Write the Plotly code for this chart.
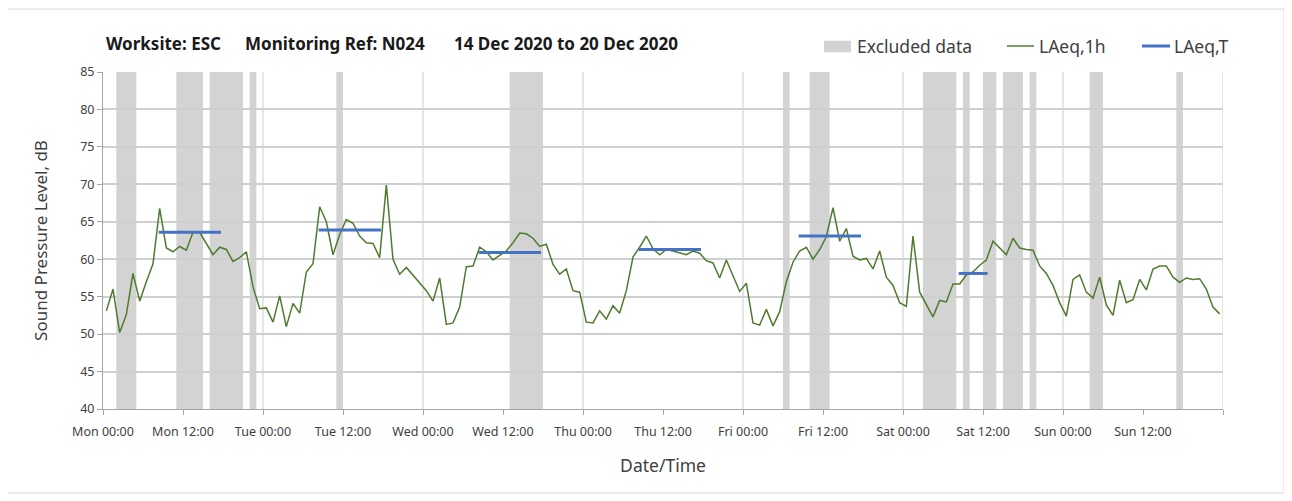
import plotly.graph_objects as go

# ---- data ----
hours = [i + 0.5 for i in range(168)]
laeq_1h = [
    53.1, 56.0, 50.2, 52.6, 58.1, 54.4, 57.0, 59.4, 66.8, 61.5, 61.0, 61.7,
    61.2, 63.6, 63.6, 62.1, 60.6, 61.6, 61.3, 59.7, 60.2, 61.0, 56.3, 53.4,
    53.5, 51.6, 55.1, 51.0, 54.1, 52.8, 58.3, 59.4, 67.0, 65.0, 60.6, 63.3,
    65.3, 64.8, 63.1, 62.2, 62.1, 60.2, 69.9, 60.0, 58.0, 58.9, 57.9, 56.8,
    55.8, 54.4, 57.5, 51.3, 51.5, 53.6, 59.0, 59.1, 61.6, 61.0, 59.9, 60.5,
    61.1, 62.2, 63.5, 63.4, 62.8, 61.7, 62.0, 59.3, 58.0, 58.7, 55.8, 55.6,
    51.6, 51.5, 53.1, 52.0, 53.8, 52.8, 55.8, 60.3, 61.6, 63.1, 61.4, 60.6,
    61.3, 61.1, 60.8, 60.6, 61.1, 60.8, 59.8, 59.5, 57.5, 59.9, 57.8, 55.7,
    56.8, 51.5, 51.2, 53.3, 51.1, 53.0, 57.0, 59.6, 61.1, 61.6, 60.0, 61.3,
    63.0, 66.9, 62.4, 64.1, 60.4, 59.9, 60.1, 58.7, 61.1, 57.6, 56.5, 54.2,
    53.7, 63.1, 55.6, 53.9, 52.3, 54.5, 54.3, 56.7, 56.7, 57.9, 58.3, 59.2,
    59.9, 62.4, 61.5, 60.6, 62.8, 61.5, 61.3, 61.2, 59.1, 58.1, 56.5, 54.2,
    52.4, 57.3, 57.9, 55.6, 54.8, 57.6, 53.9, 52.5, 57.2, 54.2, 54.6, 57.3,
    55.9, 58.7, 59.1, 59.1, 57.6, 56.9, 57.5, 57.3, 57.4, 56.0, 53.6, 52.7,
]

laeq_t_start = [8.35, 32.35, 56.35, 80.35, 104.35, 128.35]
laeq_t_end = [17.7, 41.7, 65.7, 89.7, 113.7, 132.7]
laeq_t_value = [63.6, 63.9, 60.9, 61.3, 63.1, 58.1]

excluded_start = [2, 11, 16, 22, 35, 61, 102, 106, 123, 129, 132, 135, 139, 148, 161]
excluded_end = [5, 15, 21, 23, 36, 66, 103, 109, 128, 130, 134, 138, 140, 150, 162]

tick_hours = list(range(0, 157, 12))
tick_labels = ["Mon 00:00", "Mon 12:00", "Tue 00:00", "Tue 12:00", "Wed 00:00",
               "Wed 12:00", "Thu 00:00", "Thu 12:00", "Fri 00:00", "Fri 12:00",
               "Sat 00:00", "Sat 12:00", "Sun 00:00", "Sun 12:00"]

# ---- styles ----
FONT = "Noto Sans"
GREEN = "#4f7b2f"
BLUE = "#4472c4"
BAND = "#d3d3d3"
TXT = "#404040"

OFF = 8  # page body margin
W, H = 1292 - OFF, 501 - OFF
ML, MR, MT, MB = 103 - OFF, 69, 72 - OFF, 92
PW, PH = W - ML - MR, H - MT - MB


def px(x):  # page pixel -> paper
    return (x - OFF - ML) / PW


def py(y):  # page pixel -> paper
    return (H - MB - (y - OFF)) / PH


fig = go.Figure()

# LAeq,1h
fig.add_trace(go.Scatter(x=hours, y=laeq_1h, mode="lines",
                         line=dict(color=GREEN, width=1.5),
                         name="LAeq,1h", showlegend=False))

# LAeq,T segments
bx, by = [], []
for s, e, v in zip(laeq_t_start, laeq_t_end, laeq_t_value):
    bx += [s, e, None]
    by += [v, v, None]
fig.add_trace(go.Scatter(x=bx, y=by, mode="lines",
                         line=dict(color=BLUE, width=3),
                         name="LAeq,T", showlegend=False))

shapes = []
for s, e in zip(excluded_start, excluded_end):
    shapes.append(dict(type="rect", xref="x", yref="y", x0=s, x1=e, y0=40, y1=85,
                       fillcolor=BAND, line=dict(width=0), layer="below"))
for d in range(24, 169, 24):
    shapes.append(dict(type="line", xref="x", yref="y", x0=d, x1=d, y0=40, y1=85,
                       line=dict(color="#dedede", width=1.5), layer="below"))
shapes.append(dict(type="rect", xref="paper", yref="paper",
                   x0=px(1), x1=px(1284), y0=py(493), y1=py(9),
                   line=dict(color="#d9d9d9", width=1), fillcolor="rgba(0,0,0,0)"))
shapes.append(dict(type="rect", xref="paper", yref="paper",
                   x0=px(824), x1=px(851), y0=py(52.3), y1=py(40.7),
                   fillcolor=BAND, line=dict(width=0)))
shapes.append(dict(type="line", xref="paper", yref="paper",
                   x0=px(1007), x1=px(1034), y0=py(46), y1=py(46),
                   line=dict(color=GREEN, width=1.5)))
shapes.append(dict(type="line", xref="paper", yref="paper",
                   x0=px(1142), x1=px(1170), y0=py(46), y1=py(46),
                   line=dict(color=BLUE, width=3)))

annotations = []
title_parts = [(104, "Worksite: ESC"), (243, "Monitoring Ref: N024"),
               (452, "14 Dec 2020 to 20 Dec 2020")]
for x, t in title_parts:
    annotations.append(dict(xref="paper", yref="paper", x=px(x), y=py(43),
                            xanchor="left", yanchor="middle", showarrow=False,
                            text="<b>%s</b>" % t,
                            font=dict(family=FONT, size=17, color="#1a1a1a")))
for x, t in [(855, "Excluded data"), (1037, "LAeq,1h"), (1172, "LAeq,T")]:
    annotations.append(dict(xref="paper", yref="paper", x=px(x), y=py(46),
                            xanchor="left", yanchor="middle", showarrow=False,
                            text=t, font=dict(family=FONT, size=17.5, color=TXT)))

fig.update_layout(
    width=W, height=H,
    margin=dict(l=ML, r=MR, t=MT, b=MB, pad=0),
    paper_bgcolor="white", plot_bgcolor="rgba(0,0,0,0)",
    font=dict(family=FONT, size=12.5, color=TXT),
    shapes=shapes, annotations=annotations,
    showlegend=False,
    xaxis=dict(range=[0, 168], tickmode="array",
               tickvals=tick_hours + [168], ticktext=tick_labels + [""],
               showgrid=False, zeroline=False,
               showline=True, linecolor="#a6a6a6", linewidth=1,
               ticks="outside", ticklen=5, tickcolor="#a6a6a6",
               ticklabelstandoff=6,
               tickfont=dict(family=FONT, size=12.5, color=TXT),
               title=dict(text="Date/Time", font=dict(family=FONT, size=17.5, color=TXT),
                          standoff=20)),
    yaxis=dict(range=[40, 85], tickmode="array", tickvals=list(range(40, 86, 5)),
               showgrid=True, gridcolor="#cfcfcf", gridwidth=1.5, zeroline=False,
               showline=True, linecolor="#a6a6a6", linewidth=1,
               ticks="outside", ticklen=5, tickcolor="#a6a6a6",
               tickfont=dict(family=FONT, size=12.5, color=TXT),
               title=dict(text="Sound Pressure Level, dB",
                          font=dict(family=FONT, size=17, color=TXT), standoff=28)),
)

fig.write_html("out.html")
